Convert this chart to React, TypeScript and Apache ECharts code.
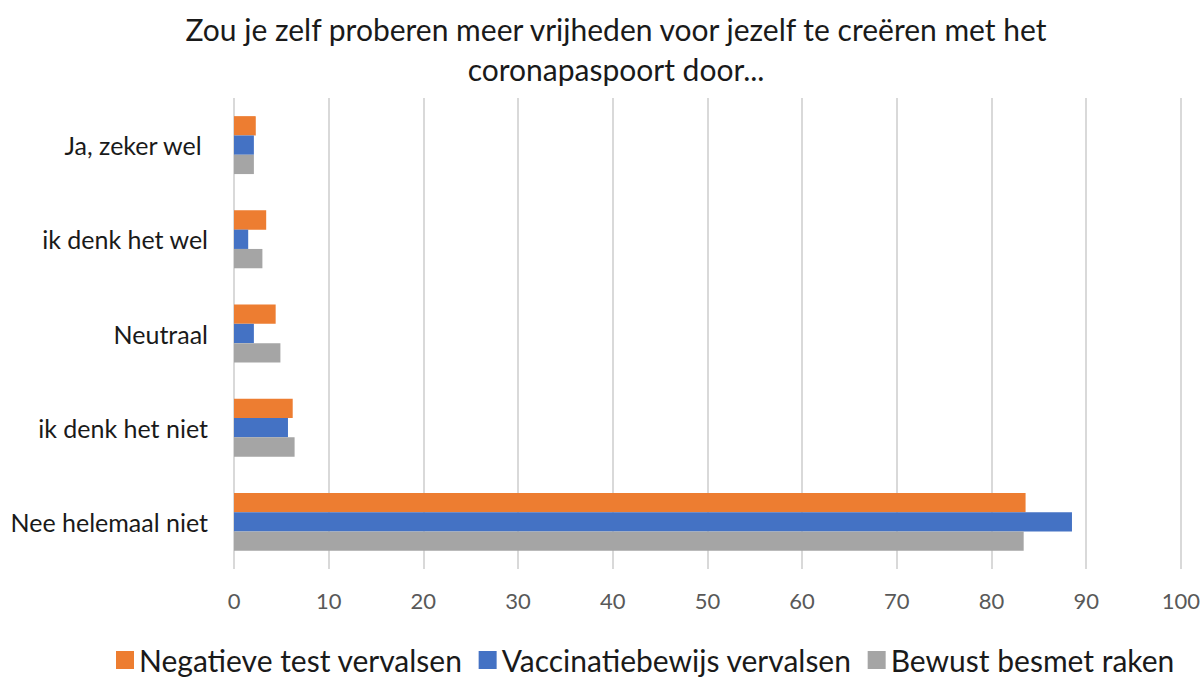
import React, { useEffect, useRef } from "react";
import * as echarts from "echarts";

const titleText = "Zou je zelf proberen meer vrijheden voor jezelf te creëren met het\ncoronapaspoort door...";
// bottom to top
const categories = ["Nee helemaal niet", "ik denk het niet", "Neutraal", "ik denk het wel", "Ja, zeker wel "];
const negatieveTest = [83.6, 6.2, 4.4, 3.4, 2.3];
const vaccinatiebewijs = [88.5, 5.7, 2.1, 1.5, 2.1];
const bewustBesmet = [83.4, 6.4, 4.9, 3.0, 2.1];
const seriesNames = ["Negatieve test vervalsen", "Vaccinatiebewijs vervalsen", "Bewust besmet raken"];

export default function App() {
  const ref = useRef<HTMLDivElement>(null);
  useEffect(() => {
    document.body.style.margin = "0";
    const chart = echarts.init(ref.current!, undefined, { renderer: "svg" });
    const font = "Lato, sans-serif";
    chart.setOption({
      animation: false,
      backgroundColor: "#ffffff",
      title: {
        text: titleText,
        left: 611,
        top: 4,
        textAlign: "center",
        textStyle: { fontFamily: font, fontSize: 30, fontWeight: "normal", color: "#1a1a1a", lineHeight: 40 },
      },
      legend: {
        data: seriesNames,
        bottom: -1,
        left: 111,
        itemWidth: 18,
        itemHeight: 18,
        itemGap: 16,
        icon: "rect",
        textStyle: { fontFamily: font, fontSize: 30, color: "#1a1a1a", padding: [0, 0, 0, 0] },
      },
      grid: { left: 234, right: 20, top: 98, bottom: 110 },
      xAxis: {
        type: "value",
        min: 0,
        max: 100,
        interval: 10,
        axisLine: { show: false },
        axisTick: { show: false },
        splitLine: { lineStyle: { color: "#d9d9d9", width: 2 } },
        axisLabel: { fontFamily: font, fontSize: 22, color: "#595959", margin: 20 },
      },
      yAxis: {
        type: "category",
        data: categories,
        axisLine: { show: false },
        axisTick: { show: false },
        axisLabel: { fontFamily: font, fontSize: 25, color: "#1a1a1a", margin: 26 },
      },
      series: [
        { name: seriesNames[0], type: "bar", data: negatieveTest, itemStyle: { color: "#ed7d31" }, barGap: "0%", barCategoryGap: "38.5%" },
        { name: seriesNames[1], type: "bar", data: vaccinatiebewijs, itemStyle: { color: "#4472c4" }, barGap: "0%", barCategoryGap: "38.5%" },
        { name: seriesNames[2], type: "bar", data: bewustBesmet, itemStyle: { color: "#a5a5a5" }, barGap: "0%", barCategoryGap: "38.5%" },
      ],
    });
    return () => chart.dispose();
  }, []);
  return <div ref={ref} style={{ width: 1203, height: 679 }} />;
}
